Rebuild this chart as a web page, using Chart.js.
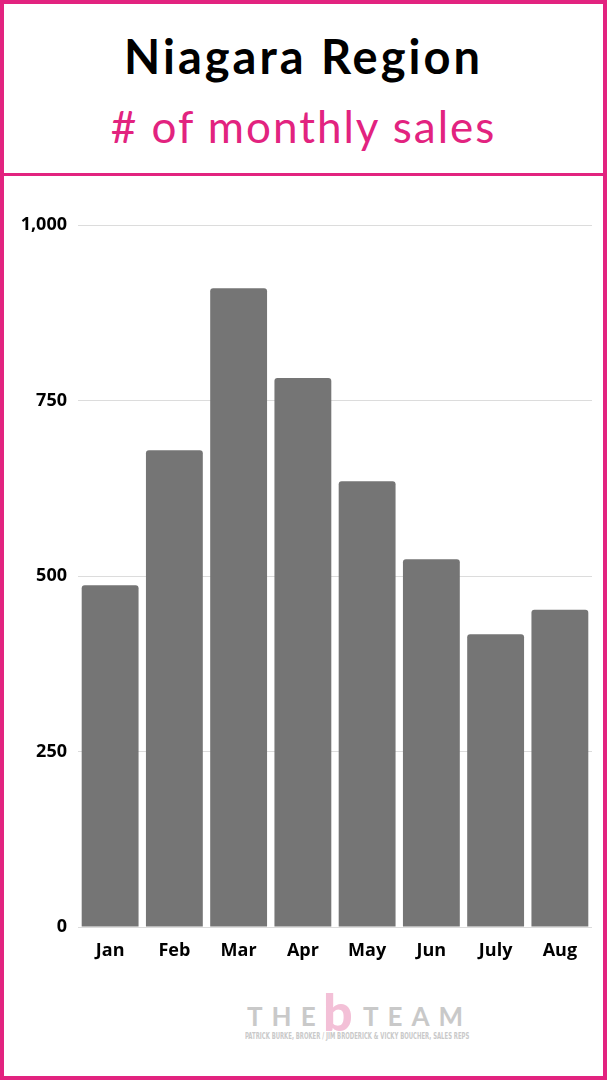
<!DOCTYPE html>
<html>
<head>
<meta charset="utf-8">
<script src="https://cdn.jsdelivr.net/npm/chart.js@4"></script>
<style>
  html, body { margin: 0; padding: 0; background: #fff; }
  #frame {
    position: relative; width: 607px; height: 1080px; box-sizing: border-box;
    border: 4px solid #e2237f; overflow: hidden; background: #fff;
  }
  #title {
    position: absolute; left: 0; right: 0; top: 24px; text-align: center;
    font: 700 47px "Lato", sans-serif; color: #000; letter-spacing: 3px;
  }
  #subtitle {
    position: absolute; left: 0; right: 0; top: 96px; text-align: center;
    font: 400 44px "Lato", sans-serif; color: #e2237f; letter-spacing: 2px;
  }
  #rule { position: absolute; left: 0; right: 0; top: 169px; height: 3px; background: #e2237f; }
  #wrap { position: absolute; left: -4px; top: 176px; width: 607px; height: 800px; }
  #logo { position: absolute; left: 0; right: 0; top: 990px; height: 60px; }
  .lt { position: absolute; top: 6px; font: 700 26px "Lato", sans-serif; color: #c9c9c9; letter-spacing: 9px; }
  .lb { position: absolute; top: -14px; left: 319px; font: 900 52px "Lato", sans-serif; color: #f3c0d7; }
  .ls { position: absolute; top: 38px; left: 241px; white-space: nowrap; transform-origin: 0 0;
        transform: scaleX(0.74);
        font: 700 8px "DejaVu Sans Condensed", "DejaVu Sans", sans-serif; color: #c9c9c9; }
</style>
</head>
<body>
<div id="frame">
  <div id="title">Niagara Region</div>
  <div id="subtitle"># of monthly sales</div>
  <div id="rule"></div>
  <div id="wrap"><canvas id="chart" width="607" height="800"></canvas></div>
  <div id="logo">
    <span class="lt" style="left:243px">THE</span>
    <span class="lb">b</span>
    <span class="lt" style="left:359px">TEAM</span>
    <div class="ls">PATRICK BURKE, BROKER / JIM BRODERICK &amp; VICKY BOUCHER, SALES REPS</div>
  </div>
</div>
<script>
// --- data ---
const months = ["Jan", "Feb", "Mar", "Apr", "May", "Jun", "July", "Aug"];
const sales = [487, 679, 910, 782, 635, 524, 417, 452];
const yTicks = [0, 250, 500, 750, 1000];

const tickFont = { family: "'Open Sans', sans-serif", size: 18, weight: "bold" };

new Chart(document.getElementById("chart"), {
  type: "bar",
  data: {
    labels: months,
    datasets: [{
      data: sales,
      backgroundColor: "#757575",
      borderRadius: 3,
      borderSkipped: "bottom",
      barPercentage: 0.885,
      categoryPercentage: 1,
    }],
  },
  options: {
    animation: false,
    responsive: false,
    layout: { padding: { left: 8, right: 15, top: 45, bottom: 13 } },
    plugins: { legend: { display: false }, tooltip: { enabled: false } },
    scales: {
      x: {
        grid: { display: false },
        border: { display: false },
        ticks: { color: "#000", font: tickFont, padding: 5 },
        afterFit: (s) => { s.height = 40; },
      },
      y: {
        min: 0,
        max: 1000,
        afterBuildTicks: (s) => { s.ticks = yTicks.map((v) => ({ value: v })); },
        grid: { color: "#dcdcdc", lineWidth: 1, drawTicks: false },
        border: { display: false },
        ticks: {
          color: "#000", font: tickFont, padding: 11,
          callback: (v) => v.toLocaleString("en-US"),
        },
        afterFit: (s) => { s.width = 70; },
      },
    },
  },
});
</script>
</body>
</html>
